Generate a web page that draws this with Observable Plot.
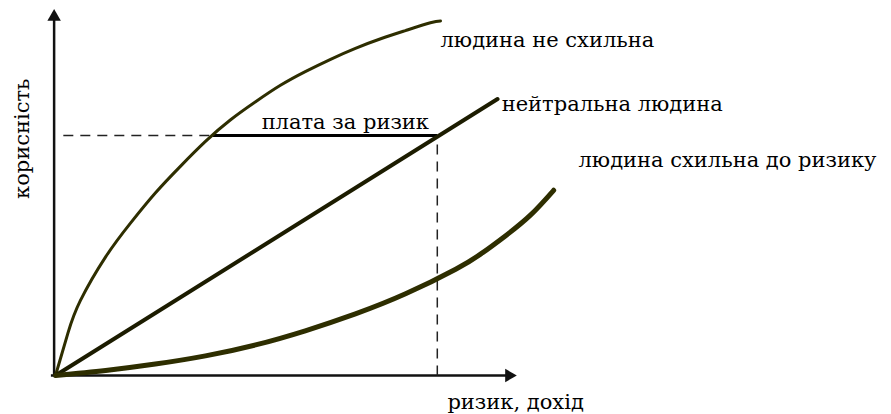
<!DOCTYPE html>
<html>
<head>
<meta charset="utf-8">
<script src="https://cdn.jsdelivr.net/npm/d3@7"></script>
<script src="https://cdn.jsdelivr.net/npm/@observablehq/plot@0.6"></script>
<style>
  html, body { margin: 0; padding: 0; background: #fff; }
  #chart svg { display: block; }
</style>
</head>
<body>
<div id="chart"></div>
<script>
// Risk-averse person (concave utility)
const averseX = [0, 0.27, 0.54, 1.09, 1.63, 2.17, 2.72, 3.26, 3.8, 4.35, 4.89, 5.43, 5.98, 6.52, 7.07, 7.61, 8.15, 8.37];
const averseY = [0, 0.93, 1.64, 2.6, 3.34, 4.0, 4.59, 5.13, 5.6, 6.0, 6.36, 6.66, 6.93, 7.17, 7.38, 7.56, 7.73, 7.77];
// Risk-neutral person (straight line)
const neutralX = [0, 9.61];
const neutralY = [0, 6.06];
// Risk-seeking person (convex utility)
const seekerX = [0, 1.09, 2.17, 3.26, 4.35, 5.43, 6.52, 7.61, 8.7, 9.24, 9.78, 10.33, 10.83];
const seekerY = [0, 0.11, 0.25, 0.43, 0.67, 0.98, 1.35, 1.79, 2.33, 2.66, 3.06, 3.52, 4.06];
// Risk premium
const premiumLevel = 5.26;
const premiumStartX = 3.42;
const certaintyX = 8.3;
const dashStartX = 0.17;
// Axes extents
const xMax = 10;
const yMax = 8;
// Curve labels
const curveLabels = ["людина не схильна", "нейтральна людина", "людина схильна до ризику"];
const curveLabelX = [8.37, 9.7, 11.37];
const curveLabelY = [7.34, 5.94, 4.71];
const premiumLabel = "плата за ризик";
const xTitle = "ризик, дохід";
const yTitle = "корисність";

const zip = (xs, ys) => xs.map((x, i) => ({x, y: ys[i]}));
const averse = zip(averseX, averseY);
const neutral = zip(neutralX, neutralY);
const seeker = zip(seekerX, seekerY);
const labelData = curveLabels.map((t, i) => ({t, x: curveLabelX[i], y: curveLabelY[i]}));

const font = "'DejaVu Serif', 'Liberation Serif', serif";
const fs = 21;

const chart = Plot.plot({
  width: 891,
  height: 414,
  margin: 0,
  x: {domain: [0, xMax], range: [55, 515], axis: null},
  y: {domain: [0, yMax], range: [375, 10], axis: null},
  style: {background: "#fff", fontFamily: font},
  marks: [
    // axes
    Plot.link([{x: -0.03, y1: 0, y2: yMax - 0.18}], {x1: "x", y1: "y1", x2: "x", y2: "y2", stroke: "#111", strokeWidth: 2.5}),
    Plot.link([{x1: -0.1, x2: xMax - 0.2, y: 0}], {x1: "x1", x2: "x2", y1: "y", y2: "y", stroke: "#111", strokeWidth: 2.5}),
    Plot.dot([{x: -0.03, y: yMax - 0.14}], {x: "x", y: "y", symbol: "triangle", r: 5, fill: "#111", stroke: "none"}),
    Plot.dot([{x: xMax - 0.14, y: 0}], {x: "x", y: "y", symbol: "triangle", r: 5, fill: "#111", stroke: "none", rotate: 90}),
    // dashed guides
    Plot.link([{x1: dashStartX, x2: premiumStartX, y: premiumLevel}], {x1: "x1", x2: "x2", y1: "y", y2: "y", stroke: "#222", strokeWidth: 1.5, strokeDasharray: "10,7"}),
    Plot.link([{x: certaintyX, y1: 0, y2: premiumLevel}], {x1: "x", x2: "x", y1: "y1", y2: "y2", stroke: "#222", strokeWidth: 1.5, strokeDasharray: "10,7"}),
    // risk premium segment
    Plot.link([{x1: premiumStartX, x2: certaintyX, y: premiumLevel}], {x1: "x1", x2: "x2", y1: "y", y2: "y", stroke: "#000", strokeWidth: 3}),
    // curves
    Plot.line(averse, {x: "x", y: "y", stroke: "#2e2e00", strokeWidth: 3, curve: "natural"}),
    Plot.line(neutral, {x: "x", y: "y", stroke: "#1c1c00", strokeWidth: 4}),
    Plot.line(seeker, {x: "x", y: "y", stroke: "#2e2e00", strokeWidth: 5, curve: "natural"}),
    // labels
    Plot.text(labelData, {x: "x", y: "y", text: "t", textAnchor: "start", lineAnchor: "middle", fontSize: fs, fill: "#000", fontFamily: font}),
    Plot.text([premiumLabel], {x: 6.3, y: 5.54, text: d => d, textAnchor: "middle", lineAnchor: "middle", fontSize: fs, fill: "#000", fontFamily: font}),
    Plot.text([xTitle], {x: 8.52, y: -0.58, text: d => d, textAnchor: "start", lineAnchor: "middle", fontSize: fs, fill: "#000", fontFamily: font}),
    Plot.text([yTitle], {x: -0.72, y: 5.19, text: d => d, rotate: -90, textAnchor: "middle", lineAnchor: "middle", fontSize: fs, fill: "#000", fontFamily: font})
  ]
});
document.getElementById("chart").appendChild(chart);
</script>
</body>
</html>
